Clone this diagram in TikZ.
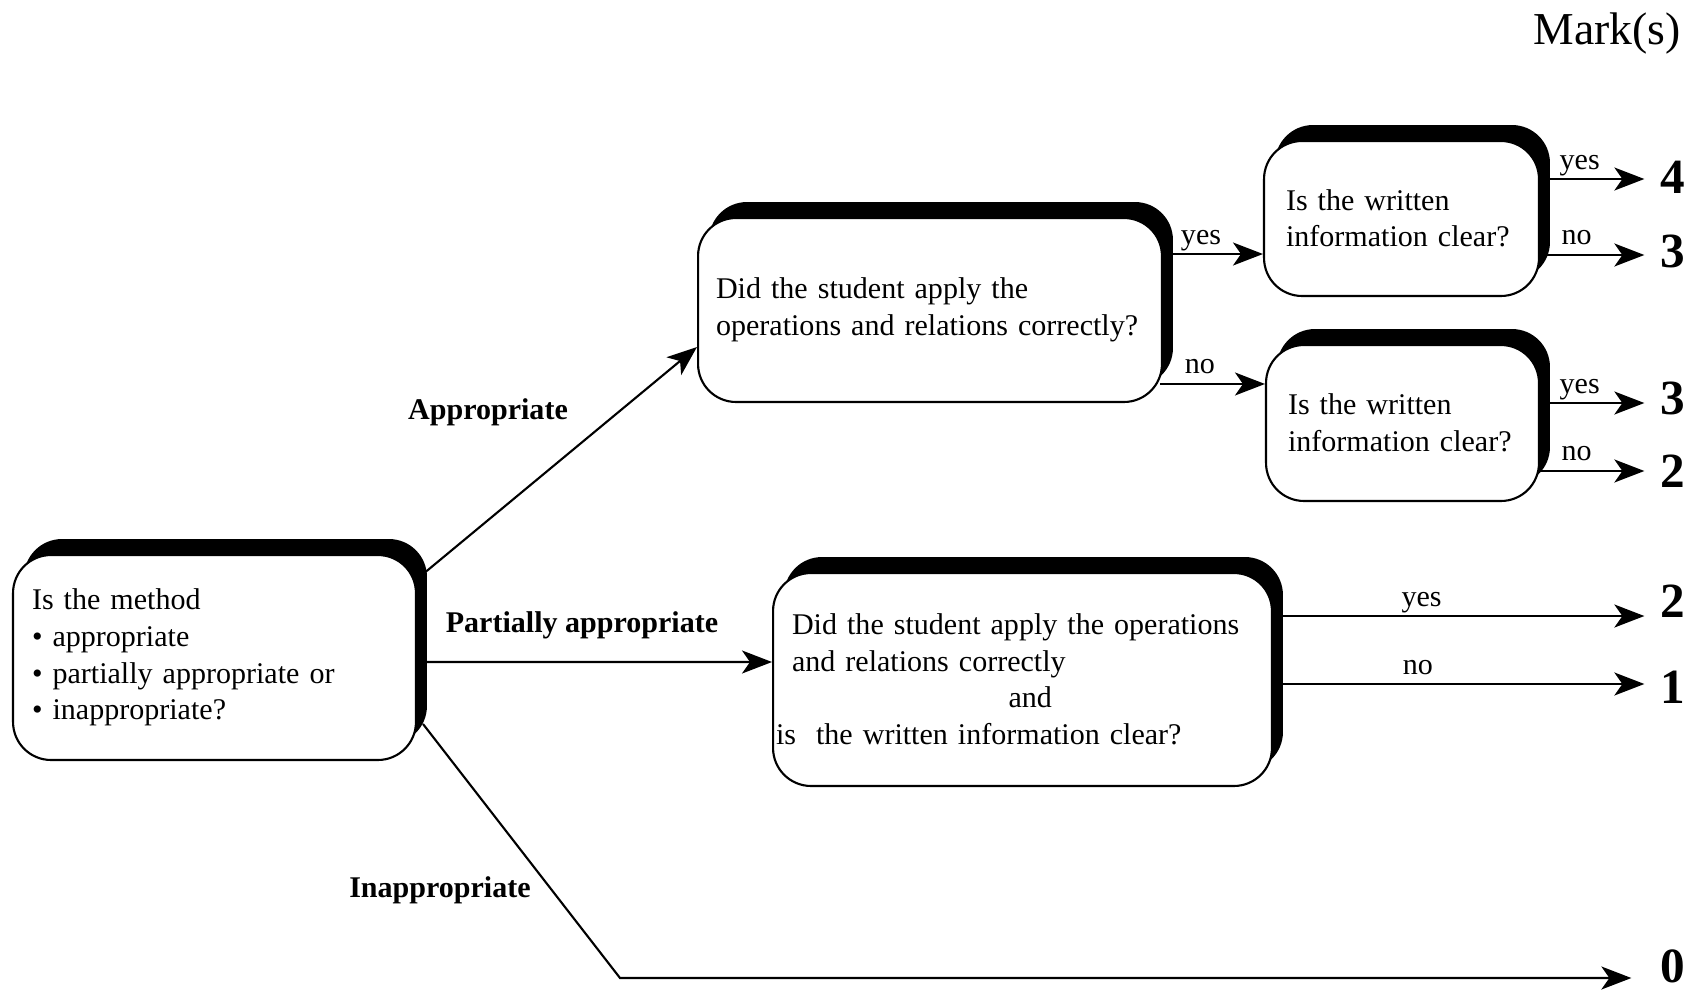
\documentclass[tikz,border=0pt]{standalone}
\usepackage{fontspec}
\setmainfont{Liberation Serif}
\usetikzlibrary{arrows.meta,shadows}
\newcommand{\qfont}{\fontsize{17.1}{20.8}\selectfont\hyphenpenalty=10000}

\begin{document}
\begin{tikzpicture}[
  x=0.02cm, y=-0.02cm,
  qbox/.style={draw, line width=1.2pt, fill=white, rounded corners=0.76cm, align=left, font=\qfont,
    drop shadow={shadow xshift=0.22cm, shadow yshift=0.32cm, opacity=1, fill=black}},
  arr/.style={-{Stealth[length=0.6cm, width=0.46cm, inset=0.16cm]}, line width=1.2pt},
  lab/.style={font=\qfont, anchor=base, yshift=0.2cm, inner sep=0pt},
  blab/.style={font=\qfont\bfseries},
  score/.style={font=\fontsize{28}{33}\selectfont\bfseries, inner xsep=0.32cm}
]
\useasboundingbox (0,0) rectangle (1690,990);

\node[qbox, text width=7.3cm, inner xsep=0.38cm, minimum height=4.1cm] (method) at (214.5,657.5)
  {Is the method\\ \textbullet\ appropriate\\ \textbullet\ partially appropriate or\\ \textbullet\ inappropriate?};
\node[qbox, text width=8.56cm, inner xsep=0.36cm, minimum height=3.68cm] (qa) at (930,310)
  {Did the student apply the\\ operations and relations correctly?};
\node[qbox, text width=4.62cm, inner xsep=0.44cm, minimum height=3.1cm] (qb1) at (1401.5,218.5)
  {Is the written\\ information clear?};
\node[qbox, text width=4.58cm, inner xsep=0.44cm, minimum height=3.12cm] (qb2) at (1402.5,423)
  {Is the written\\ information clear?};
\node[qbox, text width=9.22cm, inner xsep=0.38cm, minimum height=4.26cm] (qc) at (1022.5,679.5)
  {Did the student apply the operations\\ and relations correctly\\ \hspace*{4.33cm}and\\ \hspace*{-0.32cm}is\ \ the written information clear?};

\node[font=\fontsize{26}{31}\selectfont] (marks) at (1607,34) {Mark(s)};
\node[score] (s4) at (1673,177) {4};
\node[score] (s3a) at (1673,251) {3};
\node[score] (s3b) at (1673,398) {3};
\node[score] (s2a) at (1673,471) {2};
\node[score] (s2b) at (1673,601) {2};
\node[score] (s1) at (1673,687) {1};
\node[score] (s0) at (1673,966) {0};

\node[blab] (lapp) at (488,412) {Appropriate};
\node[blab] (lpart) at (582,625) {Partially appropriate};
\node[blab] (linapp) at (440,890) {Inappropriate};
\coordinate (bend) at (620,978);

\draw[arr] ([yshift=1.57cm]method.east) -- ([yshift=-0.74cm]qa.west);
\draw[arr] ([yshift=-0.09cm]method.east) -- ([yshift=0.35cm]qc.west);
\draw[arr, shorten >=0.26cm] ([xshift=0.12cm,yshift=-1.33cm]method.east) -- (bend) -- (bend -| s0.west);

\draw[arr] ([yshift=1.12cm]qa.east) -- node[lab, pos=0.38] {yes} ([yshift=1.12cm]qa.east -| qb1.west);
\draw[arr] ([xshift=-0.06cm,yshift=-1.48cm]qa.east) -- node[lab, pos=0.38] {no} ([yshift=-1.48cm]qa.east -| qb2.west);

\draw[arr] ([yshift=0.79cm]qb1.east) -- node[lab, pos=0.38] {yes} ([yshift=0.79cm]qb1.east -| s4.west);
\draw[arr] ([yshift=-0.73cm]qb1.east) -- node[lab, pos=0.35] {no} ([yshift=-0.73cm]qb1.east -| s3a.west);
\draw[arr] ([yshift=0.4cm]qb2.east) -- node[lab, pos=0.38] {yes} ([yshift=0.4cm]qb2.east -| s3b.west);
\draw[arr] ([yshift=-0.96cm]qb2.east) -- node[lab, pos=0.35] {no} ([yshift=-0.96cm]qb2.east -| s2a.west);

\draw[arr] ([yshift=1.27cm]qc.east) -- node[lab, pos=0.4] {yes} ([yshift=1.27cm]qc.east -| s2b.west);
\draw[arr] ([yshift=-0.09cm]qc.east) -- node[lab, pos=0.39] {no} ([yshift=-0.09cm]qc.east -| s1.west);
\end{tikzpicture}
\end{document}
